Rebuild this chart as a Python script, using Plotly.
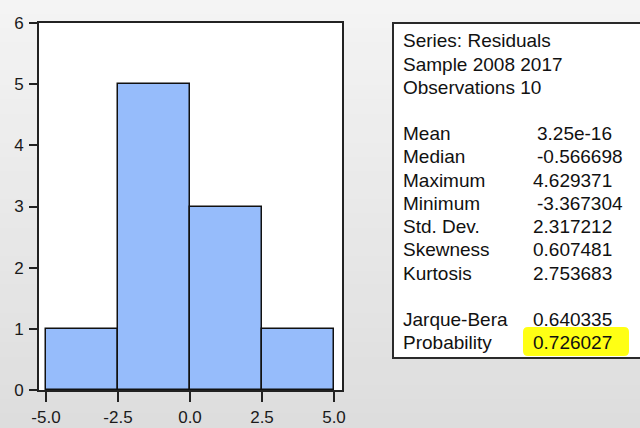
import plotly.graph_objects as go

# ---------------- data ----------------
bin_edges = [-5.0, -2.5, 0.0, 2.5, 5.0]
counts = [1, 5, 3, 1]
y_tick_vals = [0, 1, 2, 3, 4, 5, 6]
x_tick_vals = [-5.0, -2.5, 0.0, 2.5, 5.0]
x_tick_text = ["-5.0", "-2.5", "0.0", "2.5", "5.0"]

header_lines = ["Series: Residuals", "Sample 2008 2017", "Observations 10"]
stat_names = ["Mean", "Median", "Maximum", "Minimum", "Std. Dev.", "Skewness", "Kurtosis"]
stat_values = ["3.25e-16", "-0.566698", "4.629371", "-3.367304", "2.317212", "0.607481", "2.753683"]
test_names = ["Jarque-Bera", "Probability"]
test_values = ["0.640335", "0.726027"]

# ---------------- layout geometry (pixels) ----------------
W, H = 640, 428
L, R, T, B = 39, 342, 23, 390


def px(x):
    return (x - L) / (R - L)


def py(y):
    return (B - y) / (B - T)


centers = [(a + b) / 2 for a, b in zip(bin_edges[:-1], bin_edges[1:])]
widths = [b - a for a, b in zip(bin_edges[:-1], bin_edges[1:])]

fig = go.Figure()
fig.add_trace(go.Bar(
    x=centers, y=counts, width=widths,
    marker=dict(color="#96bcfb", line=dict(color="#111111", width=1.5)),
    hoverinfo="skip", showlegend=False,
))

shapes = []
# gradient background
n = 30
for i in range(n):
    y0 = H * i / n
    y1 = H * (i + 1) / n
    t = (i + 0.5) / n
    c = int(round(244 - t * (244 - 221)))
    shapes.append(dict(type="rect", xref="paper", yref="paper",
                       x0=px(-5), x1=px(W + 5), y0=py(y1 + 2), y1=py(y0 - 0.5),
                       fillcolor=f"rgb({c},{c},{c})", line=dict(width=0), layer="below"))
# plot area white
shapes.append(dict(type="rect", xref="paper", yref="paper", x0=0, x1=1, y0=0, y1=1,
                   fillcolor="white", line=dict(width=0), layer="below"))
# statistics box
shapes.append(dict(type="rect", xref="paper", yref="paper",
                   x0=px(393), x1=px(660), y0=py(358), y1=py(23),
                   fillcolor="white", line=dict(color="#2a2a2a", width=2), layer="below"))

# yellow highlight (rounded)
hx0, hx1, hy0, hy1, r = 523, 629, 327, 356, 5
path = (f"M {px(hx0 + r)},{py(hy0)} L {px(hx1 - r)},{py(hy0)} "
        f"Q {px(hx1)},{py(hy0)} {px(hx1)},{py(hy0 + r)} "
        f"L {px(hx1)},{py(hy1 - r)} Q {px(hx1)},{py(hy1)} {px(hx1 - r)},{py(hy1)} "
        f"L {px(hx0 + r)},{py(hy1)} Q {px(hx0)},{py(hy1)} {px(hx0)},{py(hy1 - r)} "
        f"L {px(hx0)},{py(hy0 + r)} Q {px(hx0)},{py(hy0)} {px(hx0 + r)},{py(hy0)} Z")
shapes.append(dict(type="path", xref="paper", yref="paper", path=path,
                   fillcolor="#ffff14", line=dict(width=0), layer="above"))

font_main = dict(family="Liberation Sans, Arial, sans-serif", size=19, color="#111111")
annotations = []
line_h = 23.2
row0 = 40


def add_text(text, x, row):
    annotations.append(dict(text=text, xref="paper", yref="paper",
                            x=px(x), y=py(row0 + row * line_h + 1),
                            xanchor="left", yanchor="middle", showarrow=False,
                            font=font_main))


for i, s in enumerate(header_lines):
    add_text(s, 401, i)

value_x = [535, 535, 531, 535, 531, 531, 531]
for i, (nm, v) in enumerate(zip(stat_names, stat_values)):
    add_text(nm, 401, 4 + i)
    add_text(v, value_x[i], 4 + i)

for i, (nm, v) in enumerate(zip(test_names, test_values)):
    add_text(nm, 401, 12 + i)
    add_text(v, 531, 12 + i)

axis_font = dict(family="Liberation Sans, Arial, sans-serif", size=17, color="#1a1a1a")

fig.update_layout(
    width=W, height=H, autosize=False,
    margin=dict(l=L, r=W - R, t=T, b=H - B, pad=0, autoexpand=False),
    paper_bgcolor="rgb(222,222,222)",
    plot_bgcolor="white",
    bargap=0,
    shapes=shapes,
    annotations=annotations,
    xaxis=dict(range=[-5 - 7 / 28.8, 5 + 8 / 28.8], tickvals=x_tick_vals, ticktext=x_tick_text,
               showgrid=False, zeroline=False, showline=True, mirror=True, automargin=False,
               linecolor="#222222", linewidth=2, ticks="outside", ticklen=10,
               tickcolor="#222222", tickwidth=1.5, tickfont=axis_font, fixedrange=True,
               ticklabelstandoff=1),
    yaxis=dict(range=[0, 6], tickvals=y_tick_vals, automargin=False,
               showgrid=False, zeroline=False, showline=True, mirror=True,
               linecolor="#222222", linewidth=2, ticks="outside", ticklen=8,
               tickcolor="#222222", tickwidth=1.5, tickfont=axis_font, fixedrange=True,
               ticklabelstandoff=2),
)

fig.write_html("out.html", config={"displayModeBar": False},
               post_script="document.body.style.margin='0';document.body.style.overflow='hidden';")
